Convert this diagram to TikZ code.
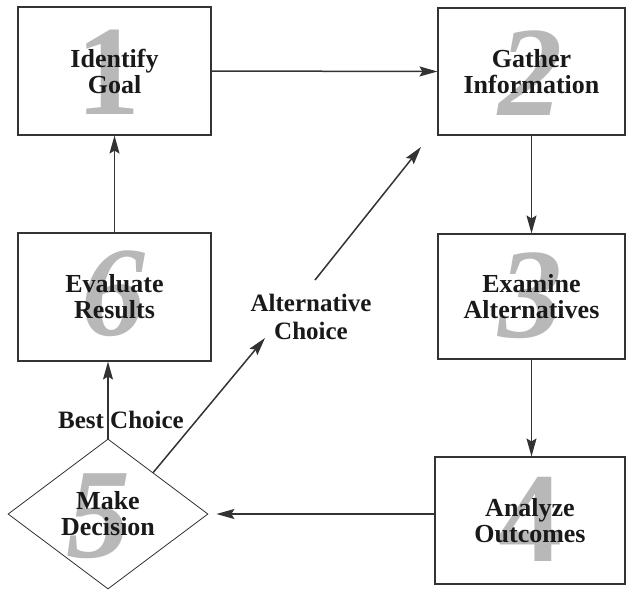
\documentclass[tikz,border=0pt]{standalone}
\usepackage{fontspec}
\setmainfont{Liberation Serif}
\usetikzlibrary{shapes.geometric,arrows.meta,calc}
\begin{document}
\begin{tikzpicture}[x=1pt,y=-1pt,
  stepbox/.style={draw=black!80, line width=1.1pt, inner sep=0pt, align=center,
    font=\bfseries\fontsize{26}{26}\selectfont, text=black!90},
  num/.style={text=black!28, inner sep=0pt, font=\bfseries\fontsize{128}{128}\selectfont},
  numi/.style={num, font=\bfseries\itshape\fontsize{128}{128}\selectfont},
  lab/.style={align=center, inner sep=0pt, font=\bfseries\fontsize{25}{28}\selectfont, text=black!90},
  arr/.style={draw=black!80, line width=1.5pt, -{Stealth[length=18pt,width=10pt,inset=3pt]}}]
\useasboundingbox (0,0) rectangle (626,590);
% big grey numerals
\node[num] (n1) at (108,72) {1};
\node[numi] (n2) at (530,73) {2};
\node[numi] (n3) at (530,296) {3};
\node[num] (n4) at (530,519) {4};
\node[numi] (n5) at (98,516) {5};
\node[numi] (n6) at (113,294) {6};
% boxes
\node[stepbox, minimum width=193pt, minimum height=128pt] (b1) at (114.5,71) {Identify\\Goal};
\node[stepbox, minimum width=187pt, minimum height=127pt] (b2) at (531.5,71.5) {Gather\\Information};
\node[stepbox, minimum width=187pt, minimum height=125pt] (b3) at (531.5,296.5) {Examine\\Alternatives};
\node[stepbox, minimum width=190pt, minimum height=127pt] (b4) at (530,520.5) {Analyze\\Outcomes};
\node[stepbox, minimum width=193pt, minimum height=128pt] (b6) at (114.5,297) {Evaluate\\Results};
\node[stepbox, diamond, line width=0.8pt, aspect=1.333, minimum width=200pt, minimum height=150pt] (d5) at (108,514) {Make\\Decision};
% labels
\node[lab] (best) at (121,420) {Best Choice};
\node[lab] (alt) at (311,317) {Alternative\\Choice};
% connectors
\draw[arr] (b1.east) -- (b2.west);
\draw[arr] (b2.south) -- (b3.north);
\draw[arr] (b3.south) -- (b3.south |- b4.north);
\draw[arr, shorten >=8pt] (b4.west |- d5.east) -- (d5.east);
\draw[arr] (d5.north) -- (d5.north |- b6.south);
\draw[arr] (b6.north) -- (b1.south);
\coordinate (d5a) at ($(d5.north)!0.45!(d5.east)$);
\coordinate (a1) at (265,338);
\coordinate (a2) at (315,280);
\coordinate (g2) at (421,147);
\draw[arr] (d5a) -- (a1);
\draw[arr] (a2) -- (g2);
\end{tikzpicture}
\end{document}
